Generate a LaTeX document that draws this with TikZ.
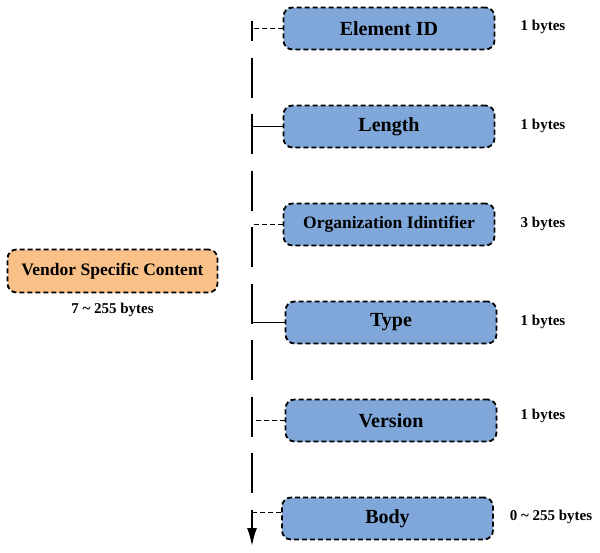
\documentclass[tikz,border=0pt]{standalone}
\usepackage{fontspec}
\setmainfont{Liberation Serif}
\usetikzlibrary{arrows.meta}

\definecolor{fieldblue}{HTML}{7FA7DA}
\definecolor{vendororange}{HTML}{F9C188}

\tikzset{
  field/.style = {draw, fill = fieldblue, rounded corners = 9pt, line width = 1.8pt,
    dash pattern = on 5pt off 3pt, minimum width = 211pt, minimum height = 42pt,
    font = \bfseries\fontsize{20}{24}\selectfont},
  bytelabel/.style = {font = \bfseries\fontsize{15}{18}\selectfont},
  link/.style = {line width = 1.8pt},
  dashlink/.style = {line width = 1.6pt, dash pattern = on 5pt off 3pt}
}

\begin{document}
\begin{tikzpicture}[x = 1pt, y = -1pt]

      \useasboundingbox (0, 0) rectangle (600, 552);

      \node[field, fill = vendororange, minimum width = 210pt, minimum height = 43pt,
        font = \bfseries\fontsize{17.5}{21}\selectfont] (vendor) at (112.5, 271) {Vendor Specific Content};
      \node[bytelabel] (vendorlen) at (112.5, 310) {7 \textasciitilde{} 255 bytes};

      \node[field] (eid) at (389, 28.5) {Element ID};
      \node[field] (len) at (389, 126.5) {Length};
      \node[field, font = \bfseries\fontsize{17.5}{21}\selectfont] (org) at (389, 224.5) {Organization Idintifier};
      \node[field] (type) at (391, 322.5) {Type};
      \node[field] (ver) at (391, 420.5) {Version};
      \node[field] (body) at (387.5, 518.5) {Body};

      \node[bytelabel] (eidlen) at (543, 27) {1 bytes};
      \node[bytelabel] (lenlen) at (543, 126) {1 bytes};
      \node[bytelabel] (orglen) at (543, 224) {3 bytes};
      \node[bytelabel] (typelen) at (543, 322) {1 bytes};
      \node[bytelabel] (verlen) at (543, 416) {1 bytes};
      \node[bytelabel] (bodylen) at (551, 517) {0 \textasciitilde{} 255 bytes};

      \coordinate (spinetop) at (252, 21);
      \coordinate (spinebot) at (252, 546);
      \draw[link, dash pattern = on 40pt off 16.5pt, dash phase = 20pt,
        -{Latex[length = 18pt, width = 10pt]}] (spinetop) -- (spinebot);

      \draw[dashlink] (eid.west) -- (eid.west -| spinetop);
      \draw[link] (len.west) -- (len.west -| spinetop);
      \draw[dashlink] (org.west) -- (org.west -| spinetop);
      \draw[link] (type.west) -- (type.west -| spinetop);
      \draw[dashlink] (ver.west) -- (ver.west -| spinetop);
      \draw[dashlink] ([yshift = 6pt]body.west) -- ([yshift = 6pt]body.west -| spinetop);

    \end{tikzpicture}
\end{document}
